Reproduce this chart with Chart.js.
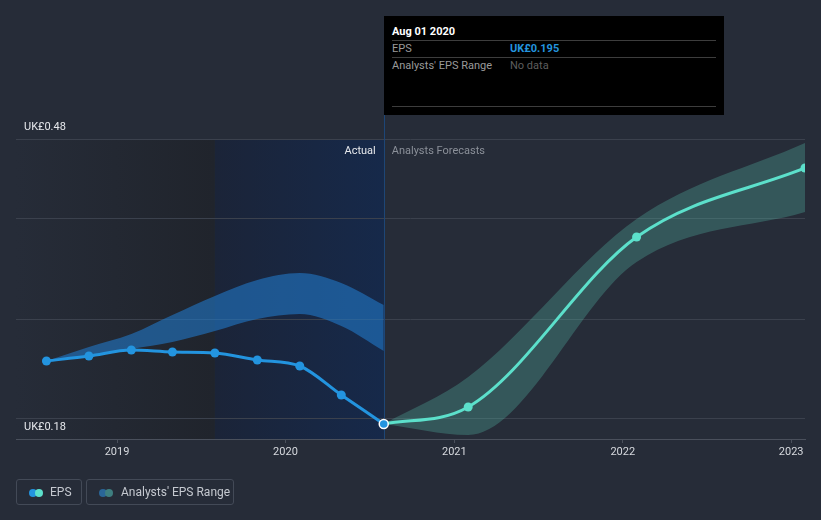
<!DOCTYPE html>
<html>
<head>
<meta charset="utf-8">
<script src="https://cdn.jsdelivr.net/npm/chart.js@4"></script>
<style>
  body { margin: 0; background: #262c38; font-family: Roboto, "Noto Sans", sans-serif; }
  #wrap { position: relative; width: 821px; height: 520px; }
  #tip { position: absolute; left: 384px; top: 16px; width: 340px; height: 99px; background: #000; font-size: 11px; }
  #tip .t { position: absolute; left: 8px; line-height: 13px; }
  #tip .rule { position: absolute; left: 8px; width: 324px; height: 1px; background: #3d3d3d; }
  .leg { position: absolute; top: 479px; height: 26px; border: 1px solid #434a57; border-radius: 3px;
         box-sizing: border-box; color: #c5c9d0; font-size: 12px; line-height: 25px; }
  .dot { position: absolute; top: 9px; width: 8px; height: 8px; border-radius: 50%; }
</style>
</head>
<body>
<div id="wrap">
  <canvas id="chart" width="821" height="520"></canvas>
  <div id="tip">
    <div class="t" style="top:9px;color:#fff;font-weight:bold">Aug 01 2020</div>
    <div class="rule" style="top:24px"></div>
    <div class="t" style="top:26px;color:#9a9a9a">EPS</div>
    <div class="t" style="top:26px;left:126px;color:#2394df;font-weight:bold">UK£0.195</div>
    <div class="rule" style="top:41px"></div>
    <div class="t" style="top:43px;color:#9a9a9a">Analysts' EPS Range</div>
    <div class="t" style="top:43px;left:126px;color:#5e5e5e">No data</div>
    <div class="rule" style="top:90px"></div>
  </div>
  <div class="leg" style="left:16px;width:66px">
    <span class="dot" style="left:12px;background:#2394df"></span>
    <span class="dot" style="left:18px;background:#5ce0cb"></span>
    <span style="position:absolute;left:33px">EPS</span>
  </div>
  <div class="leg" style="left:86px;width:148px">
    <span class="dot" style="left:12px;background:#2a6698"></span>
    <span class="dot" style="left:18px;background:#3e7f80"></span>
    <span style="position:absolute;left:34px">Analysts' EPS Range</span>
  </div>
</div>
<script>
// quarterly reported EPS (UK£)
const epsDates = ["2018-08-01", "2018-11-01", "2019-02-01", "2019-05-01", "2019-08-01", "2019-11-01", "2020-02-01", "2020-05-01", "2020-08-01"];
const epsValues = [0.258, 0.263, 0.269, 0.267, 0.266, 0.259, 0.253, 0.224, 0.195];
const pastRangeHigh = [0.258, 0.272, 0.285, 0.304, 0.323, 0.339, 0.346, 0.336, 0.314];
const pastRangeLow = [0.258, 0.263, 0.270, 0.277, 0.288, 0.300, 0.305, 0.293, 0.268];

// analysts forecasts
const forecastDates = ["2020-08-01", "2021-01-31", "2022-01-31", "2023-01-31"];
const forecastValues = [0.195, 0.212, 0.382, 0.451];
const forecastHigh = [0.195, 0.242, 0.400, 0.476];
const forecastLow = [0.195, 0.184, 0.357, 0.407];

const yearTicks = ["2019", "2020", "2021", "2022", "2023"];
const yTicks = [0.18, 0.2, 0.3, 0.4, 0.48];
const yLabels = ["UK£0.18", "UK£0.48"];

const xMin = Date.parse("2018-05-27");
const xMax = Date.parse("2023-01-31");
const actualStart = Date.parse("2019-08-01");
const today = Date.parse("2020-08-01");

const toPoints = (dates, vals) => dates.map((d, i) => ({ x: Date.parse(d), y: vals[i] }));

const regions = {
  id: "regions",
  beforeDraw(chart) {
    const { ctx, chartArea: a, scales: { x } } = chart;
    const x1 = x.getPixelForValue(actualStart);
    const x2 = x.getPixelForValue(today);
    ctx.save();
    let g = ctx.createLinearGradient(a.left, 0, x1, 0);
    g.addColorStop(0, "#262c38");
    g.addColorStop(1, "#20242c");
    ctx.fillStyle = g;
    ctx.fillRect(a.left, a.top, x1 - a.left, a.bottom - a.top);
    g = ctx.createLinearGradient(x1, 0, x2, 0);
    g.addColorStop(0, "#1b2438");
    g.addColorStop(1, "#16294a");
    ctx.fillStyle = g;
    ctx.fillRect(x1, a.top, x2 - x1, a.bottom - a.top);
    ctx.restore();
  },
  beforeDatasetsDraw(chart) {
    const { ctx, chartArea: a, scales: { x } } = chart;
    const xp = Math.round(x.getPixelForValue(today)) + 0.5;
    ctx.save();
    ctx.strokeStyle = "#1d4677";
    ctx.lineWidth = 1;
    ctx.beginPath();
    ctx.moveTo(xp, 115);
    ctx.lineTo(xp, a.bottom);
    ctx.stroke();
    ctx.restore();
  },
  afterDraw(chart) {
    const { ctx, scales: { x, y } } = chart;
    const xp = x.getPixelForValue(today);
    ctx.save();
    ctx.font = "11px Roboto";
    ctx.textBaseline = "middle";
    ctx.fillStyle = "#e6e8ec";
    ctx.textAlign = "left";
    ctx.fillText(yLabels[1], 24, y.getPixelForValue(0.48) - 12);
    ctx.fillText(yLabels[0], 24, y.getPixelForValue(0.18) - 12);
    ctx.textAlign = "right";
    ctx.fillText("Actual", xp - 8, 151);
    ctx.textAlign = "left";
    ctx.fillStyle = "#8b9099";
    ctx.fillText("Analysts Forecasts", xp + 8, 151);
    ctx.restore();
  }
};

const lastIdx = epsValues.length - 1;

new Chart(document.getElementById("chart"), {
  type: "line",
  data: {
    datasets: [
      {
        label: "EPS",
        data: toPoints(epsDates, epsValues),
        borderColor: "#2394df",
        backgroundColor: "#2394df",
        borderWidth: 3,
        pointRadius: 4.5,
        pointBorderWidth: epsValues.map((v, i) => (i === lastIdx ? 1.5 : 0)),
        pointBorderColor: epsValues.map((v, i) => (i === lastIdx ? "#ffffff" : "#2394df")),
        cubicInterpolationMode: "monotone",
        fill: false,
        order: 0,
      },
      {
        label: "Forecast EPS",
        data: toPoints(forecastDates, forecastValues),
        borderColor: "#5ce0cb",
        backgroundColor: "#5ce0cb",
        borderWidth: 3,
        pointRadius: forecastValues.map((v, i) => (i === 0 ? 0 : 4.5)),
        pointBorderWidth: 0,
        cubicInterpolationMode: "monotone",
        fill: false,
        order: 1,
      },
      {
        label: "past high",
        data: toPoints(epsDates, pastRangeHigh),
        borderWidth: 0,
        pointRadius: 0,
        cubicInterpolationMode: "monotone",
        fill: false,
        order: 3,
      },
      {
        label: "past low",
        data: toPoints(epsDates, pastRangeLow),
        borderWidth: 0,
        pointRadius: 0,
        backgroundColor: "rgba(33,120,200,0.6)",
        cubicInterpolationMode: "monotone",
        fill: "-1",
        order: 3,
      },
      {
        label: "forecast high",
        data: toPoints(forecastDates, forecastHigh),
        borderWidth: 0,
        pointRadius: 0,
        cubicInterpolationMode: "monotone",
        fill: false,
        order: 3,
      },
      {
        label: "forecast low",
        data: toPoints(forecastDates, forecastLow),
        borderWidth: 0,
        pointRadius: 0,
        backgroundColor: "rgba(88,200,180,0.28)",
        cubicInterpolationMode: "monotone",
        fill: "-1",
        order: 3,
      },
    ],
  },
  options: {
    responsive: false,
    animation: false,
    events: [],
    layout: { padding: { top: 139, left: 16, right: 16, bottom: 0 } },
    plugins: { legend: { display: false }, tooltip: { enabled: false } },
    scales: {
      x: {
        type: "linear",
        min: xMin,
        max: xMax,
        afterFit(s) { s.height = 81; },
        afterBuildTicks(s) { s.ticks = yearTicks.map((t) => ({ value: Date.parse(t + "-01-01") })); },
        ticks: {
          color: "#d6d9de",
          font: { family: "Roboto", size: 11 },
          padding: 3,
          maxRotation: 0,
          callback: (v) => new Date(v).getUTCFullYear(),
        },
        grid: { drawOnChartArea: false, tickLength: 4, color: "#4a505c" },
        border: { color: "#4a505c", width: 1 },
      },
      y: {
        min: 0.18,
        max: 0.48,
        afterFit(s) { s.width = 0; },
        afterBuildTicks(s) { s.ticks = yTicks.map((v) => ({ value: v })); },
        ticks: { display: false },
        grid: { color: "#3b414d", drawTicks: false },
        border: { display: false },
      },
    },
  },
  plugins: [regions],
});
</script>
</body>
</html>
